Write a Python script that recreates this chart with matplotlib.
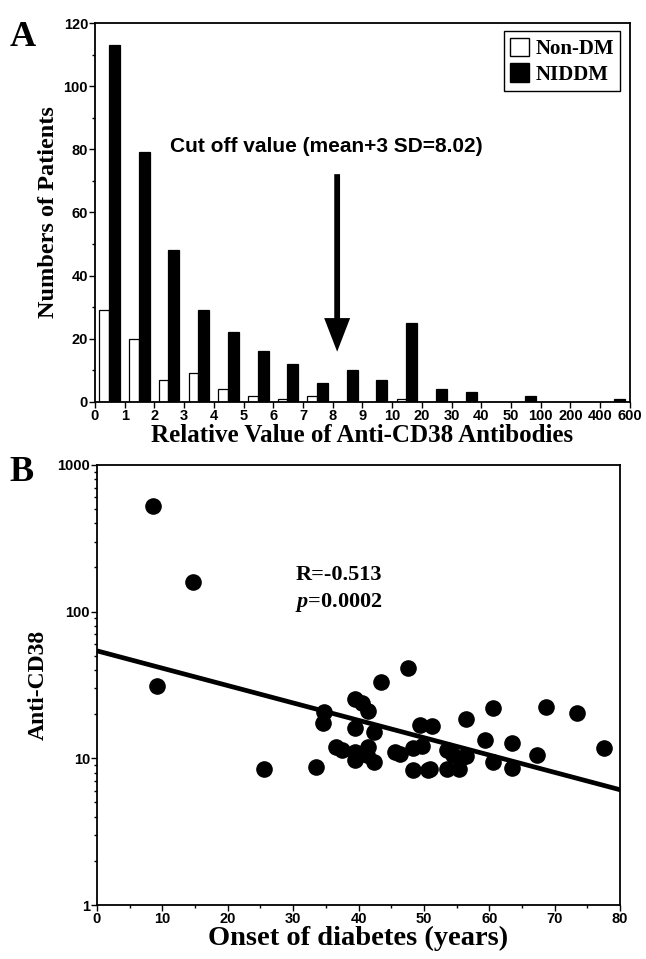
import numpy as np
import matplotlib
matplotlib.use("Agg")
import matplotlib.pyplot as plt
from matplotlib.patches import Patch
from matplotlib.ticker import LogLocator, NullFormatter, FixedLocator, FixedFormatter, MultipleLocator

# ---- panel A data: patients per bin of relative anti-CD38 value
bin_edges = ["0", "1", "2", "3", "4", "5", "6", "7", "8", "9", "10",
             "20", "30", "40", "50", "100", "200", "400", "600"]
non_dm = [29, 20, 7, 9, 4, 2, 1, 2, 0, 0, 1, 0, 0, 0, 0, 0, 0, 0]
niddm = [113, 79, 48, 29, 22, 16, 12, 6, 10, 7, 25, 4, 3, 0, 2, 0, 0, 1]
cutoff_pos = 8.15

# ---- panel B data: onset age vs anti-CD38
onset = [8.6, 14.7, 9.2, 25.5, 33.5, 34.7, 34.6, 36.6, 37.5, 39.5, 40.6, 41.4,
         39.4, 39.5, 39.4, 41.4, 41.3, 42.3, 42.4, 43.5, 47.5, 45.5, 46.4, 48.4,
         48.4, 49.4, 49.7, 50.6, 50.9, 51.3, 53.5, 53.5, 54.4, 55.4, 55.7, 56.4,
         56.4, 59.4, 60.6, 60.6, 63.4, 63.4, 67.3, 68.6, 73.4, 77.5]
anti_cd38 = [525, 160, 31, 8.5, 8.7, 20.8, 17.5, 11.9, 11.3, 25.4, 23.7, 21.1,
             16, 11.1, 9.8, 12, 10.5, 15.2, 9.5, 33, 41, 11, 10.7, 11.7,
             8.3, 16.9, 12.1, 8.3, 8.5, 16.6, 11.4, 8.5, 10.5, 8.5, 10, 10.3,
             18.4, 13.3, 21.9, 9.5, 12.8, 8.6, 10.5, 22.5, 20.3, 11.7]
fit_x = [0, 80]
fit_y = [54, 6.1]

serif = ["Liberation Serif", "DejaVu Serif"]
sans = ["Liberation Sans Narrow", "Liberation Sans", "DejaVu Sans"]

plt.rcParams["mathtext.fontset"] = "custom"
plt.rcParams["mathtext.it"] = "Liberation Serif:italic:bold"
plt.rcParams["mathtext.rm"] = "Liberation Serif:bold"

fig = plt.figure(figsize=(6.46, 9.59), dpi=100)

# ================= panel A
axA = fig.add_axes([0.147, 0.581, 0.828, 0.395])
idx = np.arange(len(non_dm))
axA.bar(idx + 0.15, non_dm, width=0.32, align="edge", color="white",
        edgecolor="black", linewidth=0.9)
axA.bar(idx + 0.47, niddm, width=0.37, align="edge", color="black",
        edgecolor="black", linewidth=0.9)
axA.set_xlim(0, len(non_dm))
axA.set_ylim(0, 120)
axA.set_xticks(np.arange(len(bin_edges)))
axA.set_xticklabels(bin_edges)
axA.yaxis.set_major_locator(MultipleLocator(20))
axA.yaxis.set_minor_locator(MultipleLocator(10))
for lab in axA.get_xticklabels() + axA.get_yticklabels():
    lab.set_family(sans)
    lab.set_fontweight("bold")
    lab.set_fontsize(10.5)
axA.tick_params(axis="both", which="major", direction="out", length=4, width=1, pad=1)
axA.tick_params(axis="both", which="minor", direction="out", length=2, width=1)
for sp in axA.spines.values():
    sp.set_linewidth(1.3)
axA.set_ylabel("Numbers of Patients", family=serif, fontweight="bold",
               fontsize=17.5, labelpad=3)
axA.set_xlabel("Relative Value of Anti-CD38 Antibodies", family=serif,
               fontweight="bold", fontsize=18, labelpad=1)
axA.text(7.8, 81, "Cut off value (mean+3 SD=8.02)", family=sans,
         fontweight="bold", fontsize=15, ha="center", va="center")
axA.annotate("", xy=(cutoff_pos, 15), xytext=(cutoff_pos, 73),
             arrowprops=dict(arrowstyle="simple,head_width=1.7,head_length=2.2,tail_width=0.38",
                             mutation_scale=11, color="black", lw=0))
handles = [Patch(facecolor="white", edgecolor="black", label="Non-DM"),
           Patch(facecolor="black", edgecolor="black", label="NIDDM")]
leg = axA.legend(handles=handles, loc="upper right", bbox_to_anchor=(0.982, 0.978),
                 prop={"family": serif, "weight": "bold", "size": 15},
                 fancybox=False, framealpha=1, edgecolor="black",
                 handlelength=0.9, handleheight=1.0, handletextpad=0.3,
                 borderpad=0.3, labelspacing=0.2, borderaxespad=0)
leg.get_frame().set_linewidth(1.0)

# ================= panel B
axB = fig.add_axes([0.150, 0.0563, 0.810, 0.459])
axB.scatter(onset, anti_cd38, s=120, color="black", zorder=3)
axB.plot(fit_x, fit_y, color="black", linewidth=3.4)
axB.set_yscale("log")
axB.set_xlim(0, 80)
axB.set_ylim(1, 1000)
axB.xaxis.set_major_locator(MultipleLocator(10))
axB.xaxis.set_minor_locator(MultipleLocator(5))
axB.yaxis.set_major_locator(FixedLocator([1, 10, 100, 1000]))
axB.yaxis.set_major_formatter(FixedFormatter(["1", "10", "100", "1000"]))
axB.yaxis.set_minor_locator(LogLocator(base=10, subs=np.arange(2, 10)))
axB.yaxis.set_minor_formatter(NullFormatter())
for lab in axB.get_xticklabels() + axB.get_yticklabels():
    lab.set_family(sans)
    lab.set_fontweight("bold")
    lab.set_fontsize(10.5)
axB.tick_params(axis="both", which="major", direction="out", length=4, width=1, pad=1)
axB.tick_params(axis="both", which="minor", direction="out", length=2.5, width=1)
for sp in axB.spines.values():
    sp.set_linewidth(1.3)
axB.set_ylabel("Anti-CD38", family=serif, fontweight="bold", fontsize=17, labelpad=6)
axB.set_xlabel("Onset of diabetes (years)", family=serif, fontweight="bold",
               fontsize=20.5, labelpad=0)
axB.text(37, 178, "R=-0.513", family=serif, fontweight="bold", fontsize=16,
         ha="center", va="center")
axB.text(37, 115, r"$\mathit{p}$=0.0002", family=serif, fontweight="bold", fontsize=16,
         ha="center", va="center")

# panel letters
fig.text(0.015, 0.961, "A", family=serif, fontweight="bold", fontsize=26, va="center")
fig.text(0.015, 0.507, "B", family=serif, fontweight="bold", fontsize=26, va="center")

fig.savefig("out.png", dpi=100)
